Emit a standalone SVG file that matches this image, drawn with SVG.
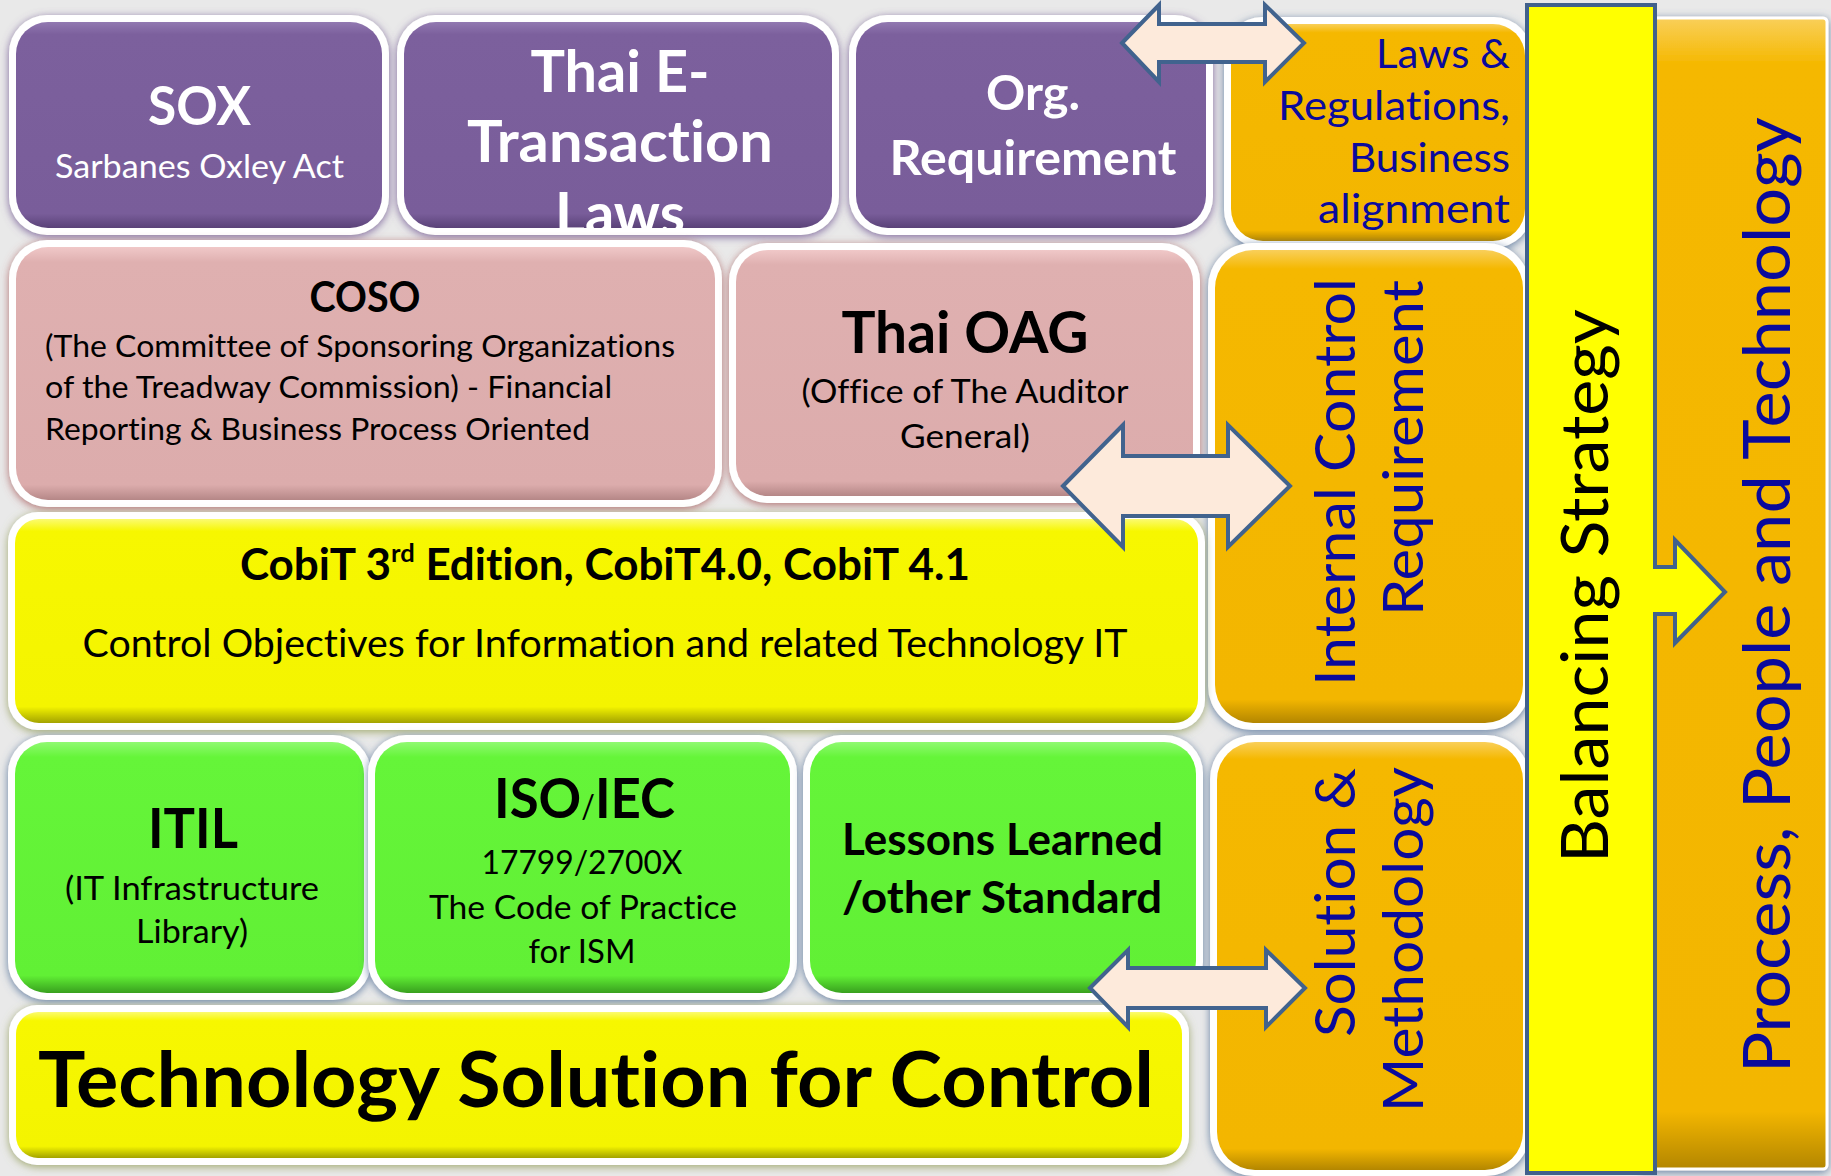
<svg xmlns="http://www.w3.org/2000/svg" width="1831" height="1176" viewBox="0 0 1831 1176">
<defs>
<style>
.t{font-family:Lato,"Open Sans","Liberation Sans",sans-serif;font-variant-ligatures:none}
.b{font-weight:700}
.w{fill:#ffffff}
.k{fill:#000000}
.bl{fill:#0a0a9c}
.outer{fill:#ffffff}
.arr{fill:#fdeadb;stroke:#41638e;stroke-width:4;stroke-linejoin:miter}
</style>
<linearGradient id="gP" x1="0" y1="0" x2="0" y2="1"><stop offset="0" stop-color="#9279b1"/><stop offset="0.06" stop-color="#7c609d"/><stop offset="0.93" stop-color="#795d9a"/><stop offset="1" stop-color="#5a4278"/></linearGradient>
<linearGradient id="gK" x1="0" y1="0" x2="0" y2="1"><stop offset="0" stop-color="#f0c8c8"/><stop offset="0.06" stop-color="#dfb0b0"/><stop offset="0.94" stop-color="#dcacac"/><stop offset="1" stop-color="#b58787"/></linearGradient>
<linearGradient id="gY" x1="0" y1="0" x2="0" y2="1"><stop offset="0" stop-color="#fbfb70"/><stop offset="0.06" stop-color="#f7f700"/><stop offset="0.92" stop-color="#f4f400"/><stop offset="1" stop-color="#a3a300"/></linearGradient>
<linearGradient id="gG" x1="0" y1="0" x2="0" y2="1"><stop offset="0" stop-color="#90f972"/><stop offset="0.06" stop-color="#65f539"/><stop offset="0.93" stop-color="#61f035"/><stop offset="1" stop-color="#38a01e"/></linearGradient>
<linearGradient id="gO" x1="0" y1="0" x2="0" y2="1"><stop offset="0" stop-color="#f9cf5a"/><stop offset="0.04" stop-color="#f5b800"/><stop offset="0.95" stop-color="#f3b600"/><stop offset="1" stop-color="#b38600"/></linearGradient>
<filter id="fP" x="-10%" y="-10%" width="120%" height="125%"><feGaussianBlur in="SourceAlpha" stdDeviation="4"/><feOffset dy="2" result="b"/><feFlood flood-color="#6d5290" flood-opacity="0.85"/><feComposite in2="b" operator="in"/><feMerge><feMergeNode/><feMergeNode in="SourceGraphic"/></feMerge></filter>
<filter id="fK" x="-10%" y="-10%" width="120%" height="125%"><feGaussianBlur in="SourceAlpha" stdDeviation="4"/><feOffset dy="2" result="b"/><feFlood flood-color="#a45252" flood-opacity="0.8"/><feComposite in2="b" operator="in"/><feMerge><feMergeNode/><feMergeNode in="SourceGraphic"/></feMerge></filter>
<filter id="fY" x="-10%" y="-10%" width="120%" height="125%"><feGaussianBlur in="SourceAlpha" stdDeviation="4"/><feOffset dy="2" result="b"/><feFlood flood-color="#8f9a52" flood-opacity="0.8"/><feComposite in2="b" operator="in"/><feMerge><feMergeNode/><feMergeNode in="SourceGraphic"/></feMerge></filter>
<filter id="fB" x="-10%" y="-10%" width="120%" height="125%"><feGaussianBlur in="SourceAlpha" stdDeviation="4"/><feOffset dy="2" result="b"/><feFlood flood-color="#4d6d96" flood-opacity="0.85"/><feComposite in2="b" operator="in"/><feMerge><feMergeNode/><feMergeNode in="SourceGraphic"/></feMerge></filter>
<clipPath id="cThai"><rect x="404" y="22" width="428" height="207"/></clipPath>
</defs>

<rect x="0" y="0" width="1831" height="1176" fill="#e9e9e9"/>

<g id="process-people-technology">
<rect x="1640" y="18" width="187" height="1151" rx="4" fill="url(#gO)" stroke="#ffffff" stroke-width="3" filter="url(#fB)"/>
<text class="t bl" font-size="66" transform="translate(1790,1073) rotate(-90)" textLength="956" lengthAdjust="spacingAndGlyphs">Process, People and Technology</text>
</g>

<g id="laws-regulations">
<rect class="outer" x="1224" y="17" width="308" height="231" rx="38" filter="url(#fB)"/>
<rect x="1231" y="24" width="294" height="217" rx="32" fill="url(#gO)"/>
<g class="t bl" font-size="41" text-anchor="end">
<text x="1510" y="68" textLength="134" lengthAdjust="spacingAndGlyphs">Laws &amp;</text>
<text x="1510" y="120" textLength="232" lengthAdjust="spacingAndGlyphs">Regulations,</text>
<text x="1510" y="172" textLength="161" lengthAdjust="spacingAndGlyphs">Business</text>
<text x="1510" y="223" textLength="192" lengthAdjust="spacingAndGlyphs">alignment</text>
</g>
</g>

<g id="internal-control-requirement">
<rect class="outer" x="1208" y="243" width="322" height="487" rx="44" filter="url(#fB)"/>
<rect x="1215" y="250" width="308" height="473" rx="38" fill="url(#gO)"/>
<text class="t bl" font-size="57" transform="translate(1355,686) rotate(-90)" textLength="408" lengthAdjust="spacingAndGlyphs">Internal Control</text>
<text class="t bl" font-size="57" transform="translate(1423,616) rotate(-90)" textLength="336" lengthAdjust="spacingAndGlyphs">Requirement</text>
</g>

<g id="solution-methodology">
<rect class="outer" x="1210" y="735" width="320" height="441" rx="44" filter="url(#fB)"/>
<rect x="1217" y="742" width="306" height="428" rx="38" fill="url(#gO)"/>
<text class="t bl" font-size="57" transform="translate(1355,1037) rotate(-90)" textLength="269" lengthAdjust="spacingAndGlyphs">Solution &amp;</text>
<text class="t bl" font-size="57" transform="translate(1423,1112) rotate(-90)" textLength="345" lengthAdjust="spacingAndGlyphs">Methodology</text>
</g>

<g id="balancing-strategy">
<path d="M1527,5 H1655 V567 H1675 V540 L1725,592 L1675,643 V614 H1655 V1173 H1527 Z" fill="#ffff00" stroke="#41618c" stroke-width="4"/>
<text class="t k" font-size="66" transform="translate(1608,863) rotate(-90)" textLength="554" lengthAdjust="spacingAndGlyphs">Balancing Strategy</text>
</g>

<g id="sox">
<rect class="outer" x="9" y="15" width="380" height="220" rx="38" filter="url(#fP)"/>
<rect x="16" y="22" width="366" height="206" rx="32" fill="url(#gP)"/>
<text class="t b w" x="199.5" y="125" font-size="54" text-anchor="middle" textLength="103" lengthAdjust="spacingAndGlyphs">SOX</text>
<text class="t w" x="199.5" y="178" font-size="33" text-anchor="middle" textLength="289" lengthAdjust="spacingAndGlyphs">Sarbanes Oxley Act</text>
</g>

<g id="thai-e-transaction">
<rect class="outer" x="397" y="15" width="442" height="220" rx="38" filter="url(#fP)"/>
<rect x="404" y="22" width="428" height="206" rx="32" fill="url(#gP)"/>
<g clip-path="url(#cThai)" class="t b w" font-size="57" text-anchor="middle">
<text x="620" y="92" textLength="179" lengthAdjust="spacingAndGlyphs">Thai E-</text>
<text x="620" y="162" textLength="306" lengthAdjust="spacingAndGlyphs">Transaction</text>
<text x="620" y="234" textLength="130" lengthAdjust="spacingAndGlyphs">Laws</text>
</g>
</g>

<g id="org-requirement">
<rect class="outer" x="849" y="15" width="364" height="220" rx="38" filter="url(#fP)"/>
<rect x="856" y="22" width="350" height="206" rx="32" fill="url(#gP)"/>
<text class="t b w" x="1033" y="110" font-size="48" text-anchor="middle" textLength="94" lengthAdjust="spacingAndGlyphs">Org.</text>
<text class="t b w" x="1033" y="175" font-size="48" text-anchor="middle" textLength="287" lengthAdjust="spacingAndGlyphs">Requirement</text>
</g>

<g id="coso">
<rect class="outer" x="9" y="240" width="713" height="267" rx="38" filter="url(#fK)"/>
<rect x="16" y="247" width="699" height="253" rx="32" fill="url(#gK)"/>
<text class="t b k" x="365" y="312" font-size="42" text-anchor="middle" textLength="111" lengthAdjust="spacingAndGlyphs">COSO</text>
<g class="t k" font-size="31">
<text x="45" y="357" textLength="630" lengthAdjust="spacingAndGlyphs">(The Committee of Sponsoring Organizations</text>
<text x="45" y="398" textLength="567" lengthAdjust="spacingAndGlyphs">of the Treadway Commission) - Financial</text>
<text x="45" y="440" textLength="545" lengthAdjust="spacingAndGlyphs">Reporting &amp; Business Process Oriented</text>
</g>
</g>

<g id="thai-oag">
<rect class="outer" x="729" y="243" width="471" height="260" rx="38" filter="url(#fK)"/>
<rect x="736" y="250" width="457" height="246" rx="32" fill="url(#gK)"/>
<text class="t b k" x="965" y="353" font-size="57" text-anchor="middle" textLength="247" lengthAdjust="spacingAndGlyphs">Thai OAG</text>
<text class="t k" x="965" y="403" font-size="33" text-anchor="middle" textLength="327" lengthAdjust="spacingAndGlyphs">(Office of The Auditor</text>
<text class="t k" x="965" y="448" font-size="33" text-anchor="middle" textLength="130" lengthAdjust="spacingAndGlyphs">General)</text>
</g>

<g id="cobit">
<rect class="outer" x="8" y="512" width="1197" height="218" rx="30" filter="url(#fY)"/>
<rect x="15" y="519" width="1183" height="204" rx="24" fill="url(#gY)"/>
<text class="t b k" x="240" y="580" font-size="43" textLength="730" lengthAdjust="spacingAndGlyphs">CobiT 3<tspan font-size="25" dy="-18">rd</tspan><tspan dy="18"> Edition, CobiT4.0, CobiT 4.1</tspan></text>
<text class="t k" x="605" y="657" font-size="38" text-anchor="middle" textLength="1045" lengthAdjust="spacingAndGlyphs">Control Objectives for Information and related Technology IT</text>
</g>

<g id="itil">
<rect class="outer" x="8" y="735" width="363" height="265" rx="38" filter="url(#fB)"/>
<rect x="15" y="742" width="349" height="251" rx="32" fill="url(#gG)"/>
<text class="t b k" x="193" y="848" font-size="56" text-anchor="middle" textLength="90" lengthAdjust="spacingAndGlyphs">ITIL</text>
<text class="t k" x="192" y="900" font-size="33" text-anchor="middle" textLength="254" lengthAdjust="spacingAndGlyphs">(IT Infrastructure</text>
<text class="t k" x="192" y="943" font-size="33" text-anchor="middle" textLength="112" lengthAdjust="spacingAndGlyphs">Library)</text>
</g>

<g id="iso-iec">
<rect class="outer" x="368" y="735" width="429" height="265" rx="38" filter="url(#fB)"/>
<rect x="375" y="742" width="415" height="251" rx="32" fill="url(#gG)"/>
<text class="t b k" x="494" y="818" font-size="56" textLength="181" lengthAdjust="spacingAndGlyphs">ISO<tspan font-size="32" font-weight="400">/</tspan>IEC</text>
<text class="t k" x="582" y="874" font-size="33" text-anchor="middle" textLength="201" lengthAdjust="spacingAndGlyphs">17799/2700X</text>
<text class="t k" x="583" y="919" font-size="33" text-anchor="middle" textLength="308" lengthAdjust="spacingAndGlyphs">The Code of Practice</text>
<text class="t k" x="582" y="963" font-size="33" text-anchor="middle" textLength="107" lengthAdjust="spacingAndGlyphs">for ISM</text>
</g>

<g id="lessons-learned">
<rect class="outer" x="803" y="735" width="400" height="265" rx="38" filter="url(#fB)"/>
<rect x="810" y="742" width="386" height="251" rx="32" fill="url(#gG)"/>
<text class="t b k" x="842" y="855" font-size="43" textLength="321" lengthAdjust="spacingAndGlyphs">Lessons Learned</text>
<text class="t b k" x="842" y="913" font-size="43" textLength="320" lengthAdjust="spacingAndGlyphs">/other Standard</text>
</g>

<g id="technology-solution">
<rect class="outer" x="9" y="1005" width="1180" height="160" rx="28" filter="url(#fY)"/>
<rect x="16" y="1012" width="1166" height="146" rx="22" fill="url(#gY)"/>
<text class="t b k" x="38" y="1107" font-size="76" textLength="1116" lengthAdjust="spacingAndGlyphs">Technology Solution for Control</text>
</g>

<g id="connectors">
<path class="arr" d="M1122,43 L1159,5 V24 H1265 V5 L1304,43 L1265,82 V62 H1159 V82 Z"/>
<path class="arr" d="M1063,486 L1123,425 V456 H1228 V425 L1290,486 L1228,547 V516 H1123 V547 Z"/>
<path class="arr" d="M1090,988 L1128,950 V968 H1266 V950 L1305,988 L1266,1027 V1008 H1128 V1027 Z"/>
</g>
</svg>
